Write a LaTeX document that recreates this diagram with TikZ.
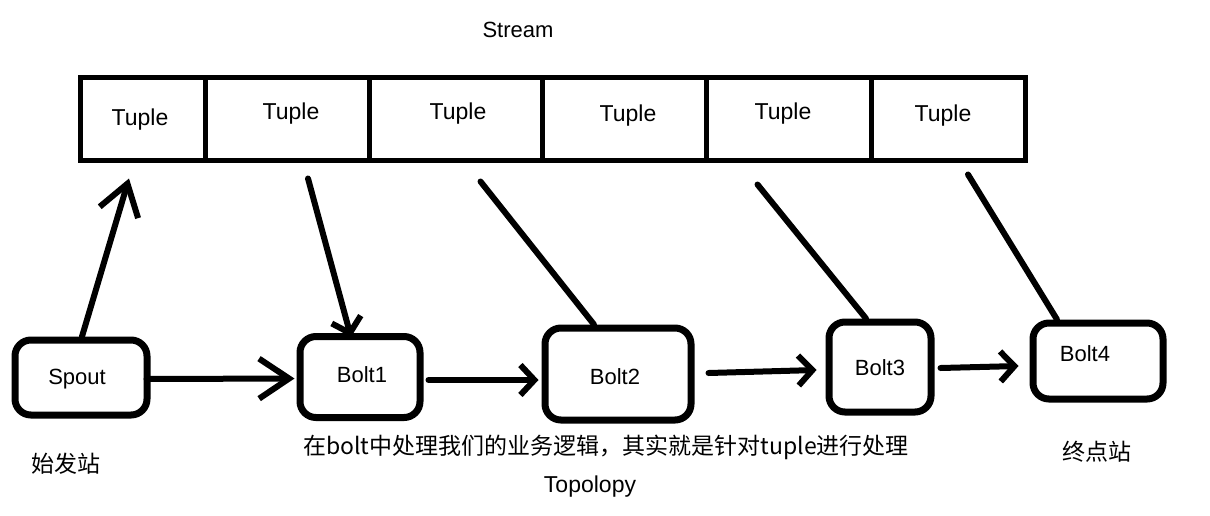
\documentclass[tikz,border=0pt]{standalone}
\usepackage{fontspec}
\setmainfont{Liberation Sans}
\newfontfamily\cjk{Noto Sans CJK SC}
\usetikzlibrary{arrows.meta}
\begin{document}
\begin{tikzpicture}[x=1pt,y=-1pt,
  cell/.style={draw, line width=5pt, inner sep=0pt, minimum height=83pt},
  box/.style={draw, line width=7pt, rounded corners=16pt, inner sep=0pt, font=\fontsize{22}{26}\selectfont},
  lbl/.style={inner sep=0pt, font=\fontsize{23}{27}\selectfont},
  cjklbl/.style={inner sep=0pt, font=\cjk\fontsize{23}{27}\selectfont},
  conn/.style={line width=6pt, line cap=round},
  arr/.style={conn, -{Straight Barb[length=14pt, width=30pt, line width=6pt]}},
  bigarr/.style={conn, -{Straight Barb[length=30pt, width=40pt, line width=6pt]}}
]
\useasboundingbox (0,0) rectangle (1210,515);
\fill[white] (0,0) rectangle (1210,515);

\node[lbl, font=\fontsize{22}{26}\selectfont] (stream) at (518,30) {Stream};

\node[cell, minimum width=125pt] (t1) at (142.5,118.5) {};
\node[cell, minimum width=164pt] (t2) at (287,118.5) {};
\node[cell, minimum width=173pt] (t3) at (455.5,118.5) {};
\node[cell, minimum width=164pt] (t4) at (624,118.5) {};
\node[cell, minimum width=165pt] (t5) at (788.5,118.5) {};
\node[cell, minimum width=154pt] (t6) at (948,118.5) {};
\node[lbl] (l1) at (140,120) {Tuple};
\node[lbl] (l2) at (291,114) {Tuple};
\node[lbl] (l3) at (458,114) {Tuple};
\node[lbl] (l4) at (628,116) {Tuple};
\node[lbl] (l5) at (783,114) {Tuple};
\node[lbl] (l6) at (943,116) {Tuple};

\node[box, minimum width=132pt, minimum height=75pt] (spout) at (81,377.5) {};
\node[lbl, font=\fontsize{22}{26}\selectfont] (spt) at (77,379) {Spout};
\node[box, minimum width=120pt, minimum height=81pt] (b1) at (360,377) {};
\node[lbl, font=\fontsize{22}{26}\selectfont] (b1t) at (362,375) {Bolt1};
\node[box, minimum width=146pt, minimum height=92pt] (b2) at (618,374) {};
\node[lbl, font=\fontsize{22}{26}\selectfont] (b2t) at (615,377) {Bolt2};
\node[box, minimum width=102pt, minimum height=90pt] (b3) at (880,367) {};
\node[lbl, font=\fontsize{22}{26}\selectfont] (b3t) at (880,368) {Bolt3};
\node[box, minimum width=130pt, minimum height=76pt] (b4) at (1098,361) {};
\node[lbl, font=\fontsize{22}{26}\selectfont] (b4t) at (1085,354) {Bolt4};

% vertical connectors
\draw[bigarr] ([xshift=1pt]spout.north) -- ([xshift=-13.5pt,yshift=-16pt]t1.south);
\draw[arr] ([xshift=21pt,yshift=-16pt]t2.south) -- ([xshift=-9pt,yshift=-4pt]b1.north);
\draw[conn] ([xshift=25pt,yshift=-19pt]t3.south) -- ([xshift=-24pt]b2.north);
\draw[conn] ([xshift=-31pt,yshift=-22pt]t5.south) -- ([xshift=-14pt]b3.north);
\draw[conn] ([xshift=20pt,yshift=-12pt]t6.south) -- ([xshift=-41pt]b4.north);

% horizontal connectors
\draw[bigarr] ([xshift=-4pt,yshift=-1.5pt]spout.east) -- ([xshift=-2pt,yshift=-1.5pt]b1.west);
\draw[arr] ([xshift=5pt,yshift=-3pt]b1.east) -- ([xshift=-3pt,yshift=-6pt]b2.west);
\draw[arr] ([xshift=14pt,yshift=1pt]b2.east) -- ([xshift=-9pt,yshift=-3pt]b3.west);
\draw[arr] ([xshift=6pt,yshift=-1pt]b3.east) -- ([xshift=-11pt,yshift=-5pt]b4.west);

% captions
\node[cjklbl] (c1) at (66,464) {始发站};
\node[cjklbl] (c2) at (606,447) {在bolt中处理我们的业务逻辑，其实就是针对tuple进行处理};
\node[lbl] (c3) at (590,487) {Topolopy};
\node[cjklbl] (c4) at (1097,452) {终点站};
\end{tikzpicture}
\end{document}
